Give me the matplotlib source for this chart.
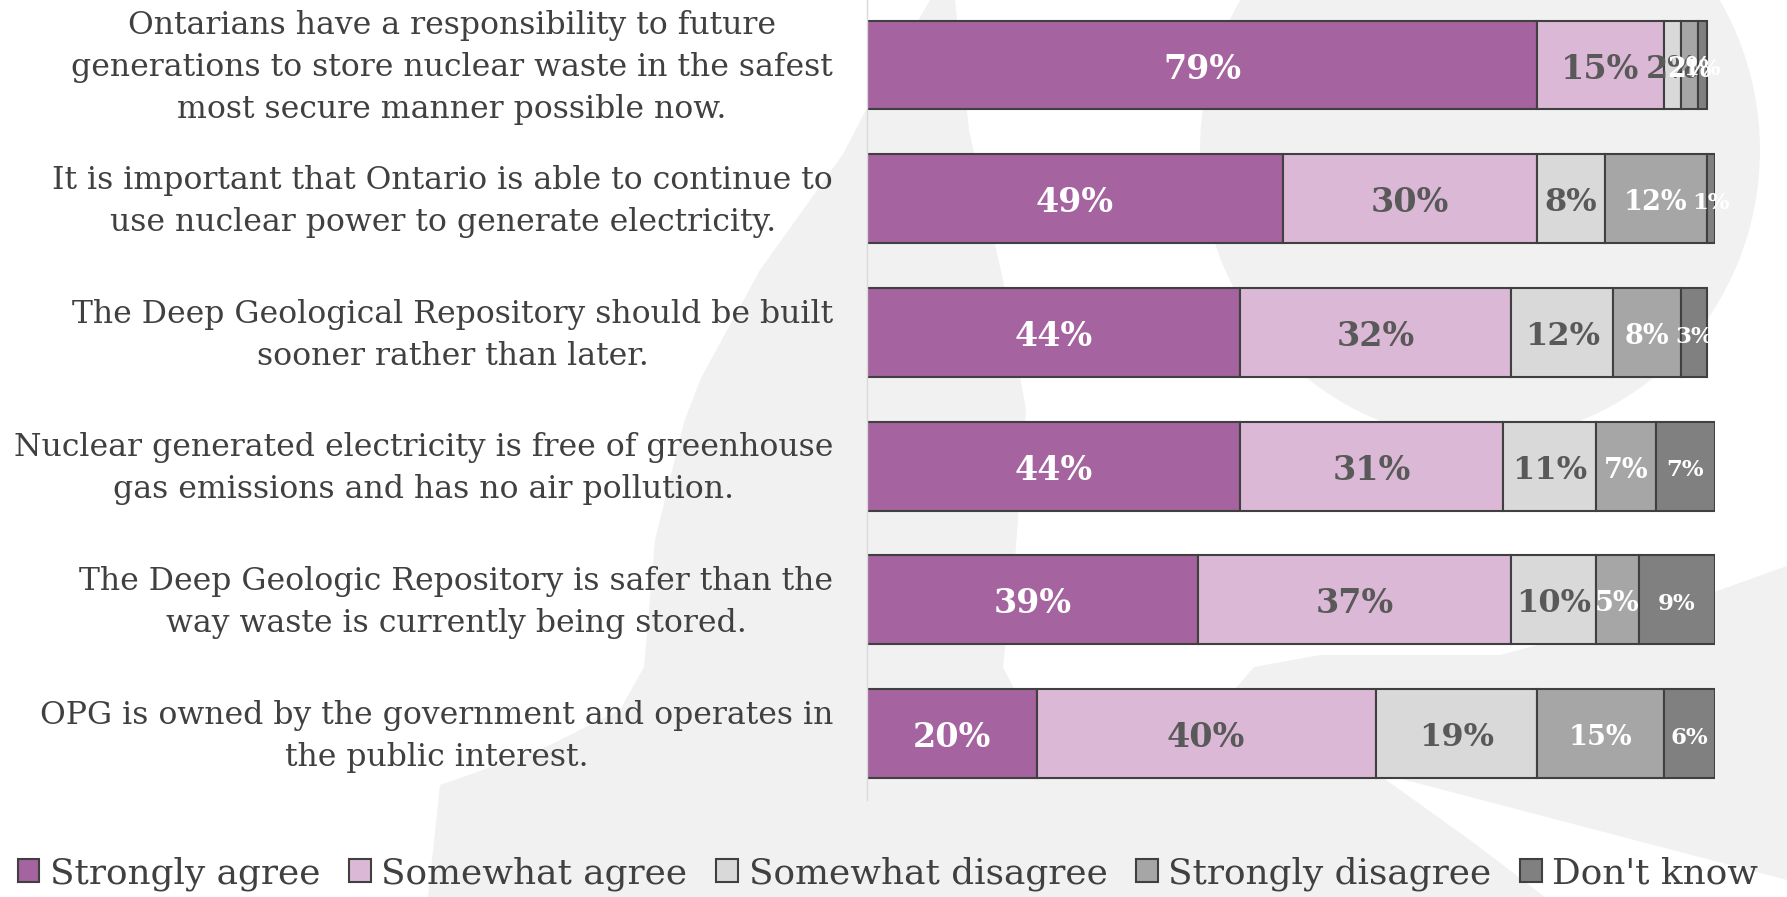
import matplotlib.pyplot as plt
import numpy as np
from matplotlib.patches import Polygon, Ellipse

# survey statements (top to bottom)
categories = [
    "Ontarians have a responsibility to future\ngenerations to store nuclear waste in the safest\nmost secure manner possible now.",
    "It is important that Ontario is able to continue to\nuse nuclear power to generate electricity.",
    "The Deep Geological Repository should be built\nsooner rather than later.",
    "Nuclear generated electricity is free of greenhouse\ngas emissions and has no air pollution.",
    "The Deep Geologic Repository is safer than the\nway waste is currently being stored.",
    "OPG is owned by the government and operates in\nthe public interest.",
]
series_names = ["Strongly agree", "Somewhat agree", "Somewhat disagree",
                "Strongly disagree", "Don't know"]
strongly_agree = [79, 49, 44, 44, 39, 20]
somewhat_agree = [15, 30, 32, 31, 37, 40]
somewhat_disagree = [2, 8, 12, 11, 10, 19]
strongly_disagree = [2, 12, 8, 7, 5, 15]
dont_know = [1, 1, 3, 7, 9, 6]

colors = ["#a5639f", "#dbb9d6", "#d9d9d9", "#a6a6a6", "#808080"]
label_colors = ["white", "#595959", "#595959", "white", "white"]
label_sizes = [24, 24, 23, 19.5, 16.5]
text_color = "#404040"

W, H = 1787, 897
fig = plt.figure(figsize=(W / 100, H / 100), dpi=100)
plt.rcParams['font.family'] = ['DejaVu Serif']

# faint watermark in the background (pixel coords)
bg = fig.add_axes([0, 0, 1, 1], zorder=-1)
bg.set_xlim(0, W)
bg.set_ylim(H, 0)
bg.axis('off')
wm = "#f1f1f1"
left_edge = [(930, 0), (866, 110), (843, 154), (760, 270), (701, 378), (684, 422),
             (655, 540), (644, 667), (620, 710), (540, 750), (440, 785), (428, 897)]
bg.add_patch(Polygon(left_edge + [(W, H), (W, 0)], closed=True, fc=wm, ec='none'))
# white curved band
band = [(955, 0), (969, 130), (1003, 280), (1026, 410), (1015, 560), (1003, 667),
        (1040, 740), (1120, 775), (1200, 730), (1254, 667), (1320, 655),
        (1500, 655), (1650, 615), (W, 566), (W, 0)]
bg.add_patch(Polygon(band, closed=True, fc='white', ec='none'))
bg.add_patch(Ellipse((1480, 150), 560, 580, fc=wm, ec='none'))
# white wedge bottom right
bg.add_patch(Polygon([(1375, 772), (1470, 840), (1545, 897), (W, 897), (W, 880)],
                     closed=True, fc='white', ec='none'))

ax = fig.add_axes([867 / W, 1 - 800 / H, 848 / W, 800 / H])
ax.set_facecolor('none')

y = np.arange(len(categories))
data = [strongly_agree, somewhat_agree, somewhat_disagree, strongly_disagree, dont_know]
left = np.zeros(len(categories))
for name, vals, c, lc, fs in zip(series_names, data, colors, label_colors, label_sizes):
    vals = np.array(vals)
    bars = ax.barh(y, vals, left=left, height=0.665, color=c, edgecolor='#404040',
                   linewidth=1.5, label=name)
    anns = ax.bar_label(bars, labels=[f"{v}%" for v in vals], label_type='center',
                        color=lc, fontsize=fs, fontweight='bold')
    for a in anns:
        a.xyann = (0, -3)  # nudge down a little, like the original
    left += vals

ax.set_xlim(0, 100)
ax.set_ylim(5.497, -0.486)
ax.set_xticks([])
ax.set_yticks([])

# statement labels, right aligned, lines centred
trans = ax.get_yaxis_transform()
for yi, cat in zip(y, categories):
    ax.text(-0.04, yi + 0.02, cat, transform=trans, ha='right', va='center',
            multialignment='center', linespacing=1.46, fontsize=22.7,
            color=text_color)

for s in ['top', 'right', 'bottom']:
    ax.spines[s].set_visible(False)
ax.spines['left'].set_color('#d9d9d9')
ax.spines['left'].set_linewidth(1)

handles, labels = ax.get_legend_handles_labels()
fig.legend(handles, labels, loc='center', bbox_to_anchor=(0.497, 0.026), ncol=5,
           frameon=False, fontsize=25.8, labelcolor=text_color, handlelength=0.6,
           handleheight=0.6, handletextpad=0.3, columnspacing=0.8)

fig.savefig("out.png", dpi=100)
